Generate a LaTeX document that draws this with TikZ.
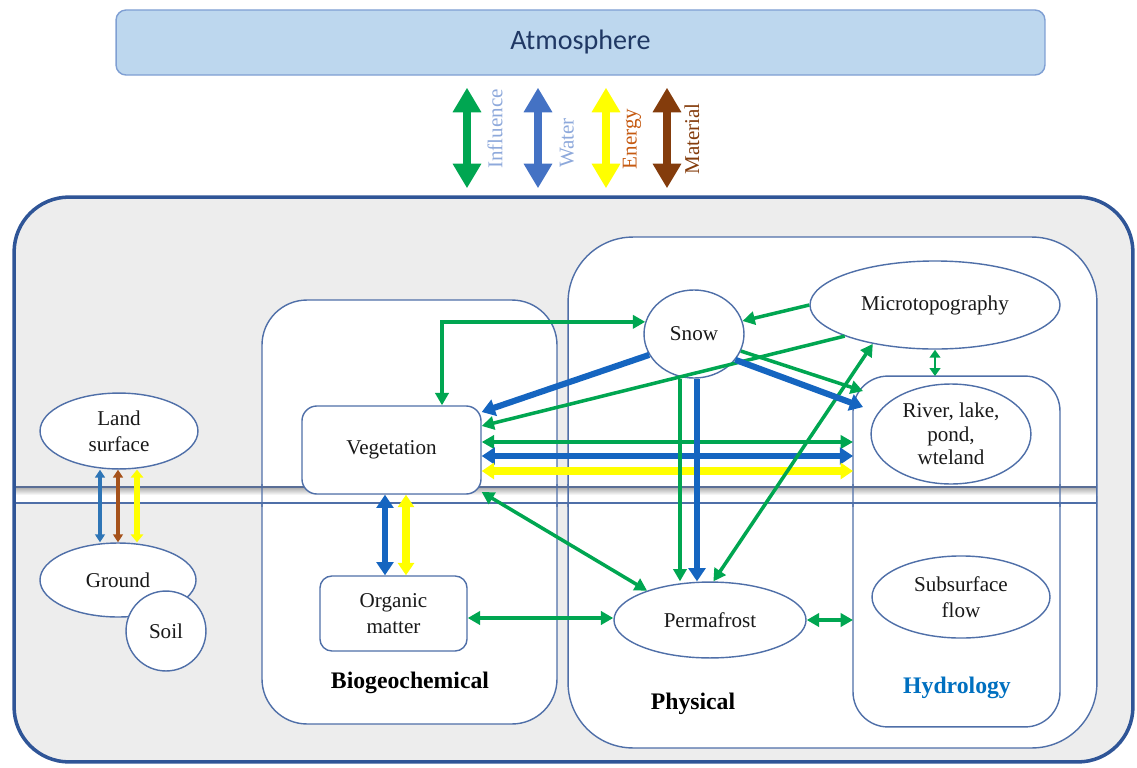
\documentclass[tikz,border=0pt]{standalone}
\usepackage{fontspec}
\setmainfont{Liberation Serif}
\newfontfamily\calib{Carlito}
\usetikzlibrary{arrows.meta,calc,shapes.geometric}
\definecolor{gr}{HTML}{00A651}
\definecolor{bl}{HTML}{1565C0}
\definecolor{ye}{HTML}{FFFF00}
\definecolor{br}{HTML}{843C0C}
\definecolor{brl}{HTML}{A5521B}
\definecolor{bx}{HTML}{4F6FA8}
\definecolor{outerc}{HTML}{2F5597}
\definecolor{bgc}{HTML}{EDEDED}
\definecolor{atmf}{HTML}{BDD7EE}
\definecolor{atmd}{HTML}{7F9FD3}
\definecolor{atmt}{HTML}{203864}
\definecolor{lblue}{HTML}{8EA9DB}
\definecolor{orng}{HTML}{C55A11}
\definecolor{hyc}{HTML}{0070C0}
\definecolor{topblue}{HTML}{4472C4}
\definecolor{sblue}{HTML}{2E75B6}
\definecolor{bandtop}{HTML}{5A6E96}
\tikzset{
  tipG/.tip={Triangle[width=7.5pt,length=7pt]},
  tipB/.tip={Triangle[width=9.5pt,length=7.5pt]},
  tipY/.tip={Triangle[width=9pt,length=7pt]},
  tipS/.tip={Triangle[width=5.5pt,length=4.5pt]},
  tipSY/.tip={Triangle[width=7pt,length=4.5pt]},
  tipM/.tip={Triangle[width=6pt,length=4.5pt]},
  tipT/.tip={Triangle[width=15.4pt,length=14pt]},
}
\begin{document}
\begin{tikzpicture}[x=0.02cm,y=-0.02cm,
  txt/.style={font=\fontsize{12}{15}\selectfont, text=black!90},
  container/.style={rectangle, draw=bx, line width=0.8pt, fill=white, inner sep=0pt, outer sep=0pt},
  ell/.style={ellipse, draw=bx, line width=0.8pt, fill=white, inner sep=0pt, align=center, txt},
  rbox/.style={rectangle, draw=bx, line width=0.8pt, fill=white, inner sep=0pt, align=center, txt},
  lbl/.style={font=\fontsize{13.5}{15}\selectfont\bfseries, text=black},
  toplbl/.style={rotate=90, txt},
  tarrow/.style={line width=4.5pt, tipT-tipT, shorten <=6.8pt, shorten >=4pt},
  gline/.style={draw=gr, line width=2pt},
  gboth/.style={gline, tipG-tipG},
  gone/.style={gline, -tipG},
  bline/.style={draw=bl, line width=3.5pt},
  bboth/.style={bline, tipB-tipB},
  bone/.style={bline, -tipB},
  yboth/.style={draw=ye, line width=4pt, tipY-tipY},
  gsmall/.style={draw=gr, line width=1.5pt, tipM-tipM},
]
\useasboundingbox (0,0) rectangle (1137,768);

% atmosphere
\node[rectangle, draw=atmd, line width=0.8pt, fill=atmf, rounded corners=5.7pt,
      minimum width=528.7pt, minimum height=37pt, inner sep=0pt,
      font=\calib\fontsize{16}{18}\selectfont, text=atmt] (atm) at (580.5,42.5) {\raisebox{-1.5pt}{Atmosphere}};

% outer box
\node[rectangle, draw=outerc, line width=2pt, fill=bgc, rounded corners=31.3pt,
      minimum width=636.8pt, minimum height=321.5pt, inner sep=0pt] (outer) at (573.5,479.5) {};

% containers
\node[container, rounded corners=25.6pt, minimum width=167.9pt, minimum height=241.3pt] (bio) at (409.5,512) {};
\node[container, rounded corners=37pt, minimum width=301pt, minimum height=290.8pt] (phys) at (832.5,492.5) {};
\node[container, rounded corners=19.9pt, minimum width=117.8pt, minimum height=199.7pt] (hyd) at (956.5,551.5) {};

% band
\fill[white] (16,487) rectangle (1097,503);
\shade[top color=black!32, bottom color=white] (16,487.5) rectangle (1097,495);
\draw[bandtop, line width=1.3pt] (16,487) -- (1097,487);
\draw[bx, line width=0.8pt] (16,503) -- (1097,503);
\begin{scope}
  \clip (16,484) rectangle (1097,506);
  \draw[bx, line width=0.8pt, rounded corners=25.6pt] (bio.south west) rectangle (bio.north east);
  \draw[bx, line width=0.8pt, rounded corners=37pt] (phys.south west) rectangle (phys.north east);
  \draw[bx, line width=0.8pt, rounded corners=19.9pt] (hyd.south west) rectangle (hyd.north east);
\end{scope}

% labels
\node[lbl] (lbio) at (410,683) {Biogeochemical};
\node[lbl] (lphy) at (693,704) {Physical};
\node[lbl, text=hyc] (lhyd) at (957,688) {Hydrology};

% top arrows + labels
\draw[tarrow, draw=gr] (atm.south -| 467,0) -- (outer.north -| 467,0);
\draw[tarrow, draw=topblue] (atm.south -| 538,0) -- (outer.north -| 538,0);
\draw[tarrow, draw=ye] (atm.south -| 606,0) -- (outer.north -| 606,0);
\draw[tarrow, draw=br] (atm.south -| 667,0) -- (outer.north -| 667,0);
\node[toplbl, text=lblue] (linf) at (495,129) {Influence};
\node[toplbl, text=lblue] (lwat) at (567,143) {Water};
\node[toplbl, text=orng] (lene) at (632,139) {Energy};
\node[toplbl, text=br] (lmat) at (692,139) {Material};

% nodes
\node[rbox, rounded corners=8.5pt, minimum width=101.9pt, minimum height=50.1pt] (veg) at (391.5,450) {Vegetation};
\node[rbox, rounded corners=6.8pt, minimum width=83.7pt, minimum height=42.7pt] (org) at (393.5,613.5) {Organic\\matter};
\node[ell, minimum width=56.9pt, minimum height=50.1pt] (snow) at (694,334) {Snow};
\node[ell, minimum width=142.3pt, minimum height=50.1pt] (micro) at (935,305) {Microtopography};
\node[ell, minimum width=91pt, minimum height=56.9pt, font=\fontsize{12}{13.5}\selectfont] (river) at (951,434) {River, lake,\\pond,\\wteland};
\node[ell, minimum width=109.3pt, minimum height=43.2pt] (perma) at (710,620) {Permafrost};
\node[ell, minimum width=101.3pt, minimum height=46.7pt] (subs) at (961,597) {Subsurface\\flow};
\node[ell, minimum width=89.9pt, minimum height=43.2pt] (land) at (119,431) {Land\\surface};
\node[ell, minimum width=88.8pt, minimum height=42.1pt] (ground) at (118,580) {Ground};
\node[ell, minimum width=45.5pt, minimum height=45.5pt] (soil) at (166,631) {Soil};

% left arrows
\draw[draw=sblue, line width=1.8pt, tipS-tipS] (land.south -| 100,0) -- (ground.north -| 100,0);
\draw[draw=brl, line width=2.2pt, tipS-tipS] (land.south -| 118,0) -- (ground.north -| 118,0);
\draw[draw=ye, line width=3.3pt, tipSY-tipSY] (land.south -| 137,0) -- (ground.north -| 137,0);

% connectors
\draw[gboth] (veg.north -| 442,0) |- (snow.166);
\draw[bone] (snow.205) -- (veg.east |- 0,412);
\draw[gone] (micro.199) -- (veg.east |- 0,426);
\draw[gboth] (veg.east |- 0,442) -- (hyd.west |- 0,442);
\draw[bboth] (veg.east |- 0,456) -- (hyd.west |- 0,456);
\draw[yboth] (veg.east |- 0,471) -- (hyd.west |- 0,471);
\draw[gboth] (veg.335) -- (perma.155);
\draw[gboth] (org.east |- 0,618) -- (perma.west |- 0,618);
\draw[gboth] (perma.east) -- (hyd.west |- perma.east);
\draw[bboth] (veg.south -| 385,0) -- (org.north -| 385,0);
\draw[yboth] (veg.south -| 406,0) -- (org.north -| 406,0);
\draw[gone] (snow.south -| 680,0) -- (perma.north -| 680,0);
\draw[bone] (snow.south -| 697,0) -- (perma.north -| 697,0);
\draw[gboth] (perma.85) -- (micro.212);
\draw[gone] (micro.west) -- (snow.15);
\draw[gone] (snow.340) -- ($(hyd.north west)+(10,15)$);
\draw[bone] (snow.328) -- ($(hyd.north west)+(10,31)$);
\draw[gsmall] (micro.south) -- (hyd.north -| micro.south);
\end{tikzpicture}
\end{document}
